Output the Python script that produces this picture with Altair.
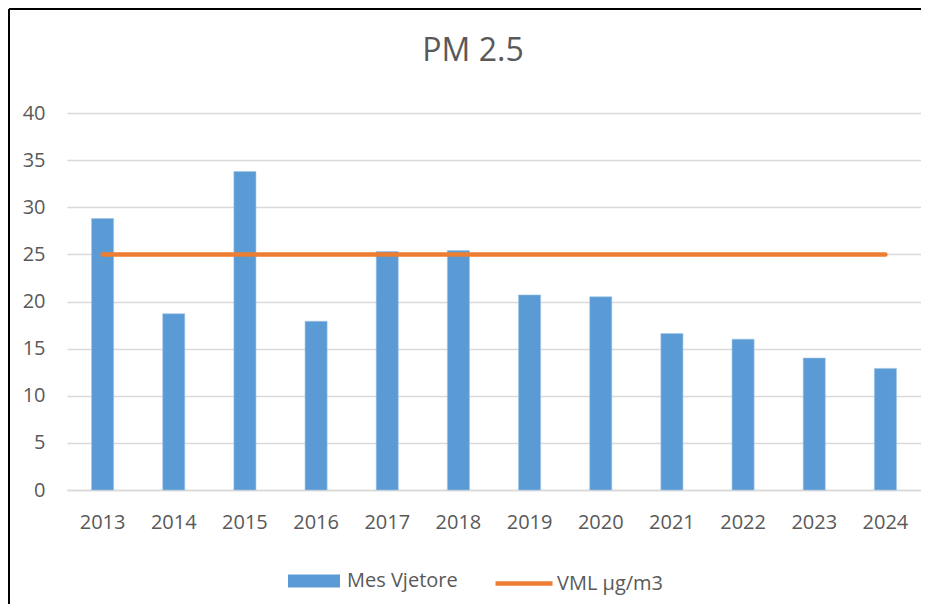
import altair as alt
import pandas as pd

years = ["2013", "2014", "2015", "2016", "2017", "2018", "2019", "2020", "2021", "2022", "2023", "2024"]
mes_vjetore = [28.8, 18.7, 33.8, 17.9, 25.3, 25.4, 20.7, 20.5, 16.6, 16.0, 14.0, 12.9]
vml = [25] * len(years)
series_names = ["Mes Vjetore", "VML µg/m3"]
series_colors = ["#5B9BD5", "#ED7D31"]
y_ticks = [0, 5, 10, 15, 20, 25, 30, 35, 40]

df = pd.DataFrame({"year": years, "mes": mes_vjetore, "vml": vml})

FONT = "Open Sans"
TXT = "#595959"
GRID = "#D9D9D9"

RECT_PATH = "M-1,-0.25L1,-0.25L1,0.25L-1,0.25Z"

legend_common = dict(
    title=None,
    orient="none",
    direction="horizontal",
    labelFont=FONT,
    labelFontSize=20,
    labelColor=TXT,
)

x = alt.X(
    "year:O",
    title=None,
    scale=alt.Scale(paddingInner=0.69, paddingOuter=0.345),
    axis=alt.Axis(
        labelAngle=0,
        labelFont=FONT,
        labelFontSize=20,
        labelColor=TXT,
        labelPadding=22,
        ticks=False,
        domainColor=GRID,
        domainWidth=1.5,
        grid=False,
    ),
)

bars = (
    alt.Chart(df)
    .transform_calculate(series="'Mes Vjetore'")
    .mark_bar(stroke="#9DC3E6", strokeWidth=0.6)
    .encode(
        x=x,
        y=alt.Y(
            "mes:Q",
            title=None,
            scale=alt.Scale(domain=[0, 40], nice=False),
            axis=alt.Axis(
                values=y_ticks,
                labelFont=FONT,
                labelFontSize=20,
                labelColor=TXT,
                labelPadding=22,
                ticks=False,
                domain=False,
                gridColor=GRID,
                gridWidth=1.5,
            ),
        ),
        fill=alt.Fill(
            "series:N",
            scale=alt.Scale(domain=[series_names[0]], range=[series_colors[0]]),
            legend=alt.Legend(
                legendX=221,
                legendY=442,
                symbolType=RECT_PATH,
                symbolSize=2704,
                symbolStrokeWidth=0,
                symbolOpacity=1,
                labelOffset=7,
                **legend_common,
            ),
        ),
    )
)

line = (
    alt.Chart(df)
    .transform_calculate(series="'VML µg/m3'")
    .mark_line(strokeWidth=4.5, strokeCap="round")
    .encode(
        x=x,
        y=alt.Y("vml:Q"),
        stroke=alt.Stroke(
            "series:N",
            scale=alt.Scale(domain=[series_names[1]], range=[series_colors[1]]),
            legend=alt.Legend(
                legendX=426,
                legendY=439.5,
                symbolType="stroke",
                symbolSize=3249,
                symbolStrokeWidth=4.5,
                labelOffset=2,
                **legend_common,
            ),
        ),
    )
)

frame_data = alt.Data(values=[{"b": 1}])
frame_left = (
    alt.Chart(frame_data)
    .mark_rule(color="black", strokeWidth=2)
    .encode(x=alt.value(-58), y=alt.value(-104), y2=alt.value(500))
)
frame_top = (
    alt.Chart(frame_data)
    .mark_rule(color="black", strokeWidth=2)
    .encode(x=alt.value(-58), x2=alt.value(854), y=alt.value(-104))
)

chart = (
    alt.layer(bars, line, frame_left, frame_top)
    .resolve_scale(fill="independent", stroke="independent")
    .properties(
        width=854,
        height=377,
        autosize=alt.AutoSizeParams(type="none"),
        padding={"left": 59, "top": 105, "right": 0, "bottom": 114},
        title=alt.TitleParams(
            "PM 2.5",
            font=FONT,
            fontSize=32,
            fontWeight="normal",
            color=TXT,
            anchor="middle",
            dx=-21,
            offset=0,
            dy=60,
        ),
    )
    .configure_view(stroke=None)
)

chart.save("out.html", embed_options={"renderer": "svg", "actions": False})
